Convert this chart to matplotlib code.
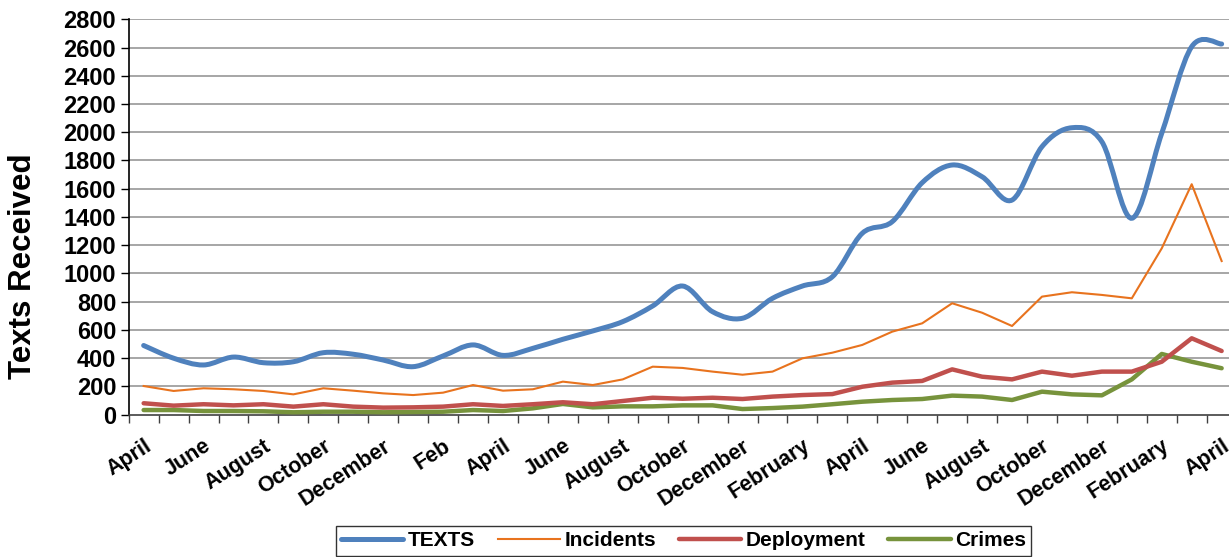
import numpy as np
import matplotlib
matplotlib.use("Agg")
import matplotlib.pyplot as plt
from matplotlib.path import Path
from matplotlib.patches import PathPatch
from matplotlib.lines import Line2D

# ---- Data (monthly, April to April over three years) ----
month_labels = ["April", "June", "August", "October", "December", "Feb",
                "April", "June", "August", "October", "December", "February",
                "April", "June", "August", "October", "December", "February",
                "April"]

texts = [490, 400, 352, 408, 368, 375, 439, 428, 387, 340, 416, 494, 420,
         470, 534, 593, 659, 770, 911, 729, 683, 824, 911, 977, 1285, 1367,
         1643, 1768, 1685, 1520, 1898, 2032, 1933, 1391, 1993, 2606, 2625]
incidents = [203, 168, 187, 180, 168, 144, 187, 170, 151, 139, 156, 210, 170,
             180, 234, 210, 250, 340, 331, 305, 283, 305, 399, 439, 494, 588,
             647, 789, 722, 628, 836, 867, 848, 824, 1178, 1632, 1088]
deployment = [81, 64, 74, 66, 74, 57, 74, 57, 50, 52, 57, 74, 62,
              74, 88, 74, 97, 120, 113, 120, 111, 128, 139, 146, 198, 227,
              239, 321, 269, 250, 305, 276, 305, 305, 375, 541, 451]
crimes = [33, 33, 26, 26, 24, 17, 21, 21, 17, 19, 21, 33, 26,
          45, 76, 52, 59, 59, 66, 66, 40, 47, 57, 74, 92, 104,
          111, 135, 128, 104, 163, 144, 137, 250, 430, 375, 329]

C_TEXTS = "#4F81BD"
C_INC = "#E8731E"
C_DEP = "#C0504D"
C_CRI = "#77933C"


def smooth_path(xs, ys):
    """Excel-style smoothed line: cubic Bezier through every point."""
    pts = np.column_stack([xs, ys]).astype(float)
    n = len(pts)
    verts = [pts[0]]
    codes = [Path.MOVETO]
    for i in range(n - 1):
        p0 = pts[i - 1] if i > 0 else pts[i]
        p1 = pts[i]
        p2 = pts[i + 1]
        p3 = pts[i + 2] if i + 2 < n else pts[i + 1]
        c1 = p1 + (p2 - p0) / 6.0
        c2 = p2 - (p3 - p1) / 6.0
        verts += [c1, c2, p2]
        codes += [Path.CURVE4] * 3
    return Path(verts, codes)


x = np.arange(len(texts))

plt.rcParams["font.family"] = ["Liberation Sans", "DejaVu Sans"]
plt.rcParams["font.weight"] = "bold"

fig = plt.figure(figsize=(12.29, 5.57), dpi=100)
ax = fig.add_axes([0.1047, 0.2555, 0.9015, 0.7099])

# gridlines
for v in range(200, 2801, 200):
    ax.axhline(v, color="#A6A6A6", lw=1.4, zorder=0)

ax.plot(x, crimes, color=C_CRI, lw=3.2, zorder=3, solid_capstyle="round")
ax.plot(x, deployment, color=C_DEP, lw=3.2, zorder=4, solid_capstyle="round")
ax.plot(x, incidents, color=C_INC, lw=1.5, zorder=5)
ax.add_patch(PathPatch(smooth_path(x, texts), facecolor="none",
                       edgecolor=C_TEXTS, lw=3.6, zorder=6, capstyle="round"))

ax.set_xlim(-0.5, len(texts) - 0.5)
ax.set_ylim(0, 2800)
ax.set_yticks(range(0, 2801, 200))
ax.tick_params(axis="y", labelsize=17, length=6, width=1, pad=3)

ax.set_xticks(x[::2])
ax.set_xticklabels(month_labels, rotation=33, ha="right", va="top",
                   rotation_mode="anchor", fontsize=15.5)
ax.set_xticks(np.arange(-0.5, len(texts), 1.0), minor=True)
ax.tick_params(axis="x", which="major", length=0, pad=15)
ax.tick_params(axis="x", which="minor", length=6, width=1, color="#404040")

for s in ["top", "right"]:
    ax.spines[s].set_visible(False)
ax.spines["left"].set_color("black")
ax.spines["left"].set_linewidth(1.2)
ax.spines["bottom"].set_color("#404040")
ax.spines["bottom"].set_linewidth(1.2)

fig.text(23 / 1229, 1 - 266 / 557, "Texts Received", rotation=90,
         ha="center", va="center", fontsize=22.5, fontweight="bold")

handles = [Line2D([], [], color=C_TEXTS, lw=3.6, solid_capstyle="round"),
           Line2D([], [], color=C_INC, lw=1.5),
           Line2D([], [], color=C_DEP, lw=3.2, solid_capstyle="round"),
           Line2D([], [], color=C_CRI, lw=3.2, solid_capstyle="round")]
leg = fig.legend(handles, ["TEXTS", "Incidents", "Deployment", "Crimes"],
                 loc="center", bbox_to_anchor=(0.556, 0.029), ncol=4,
                 frameon=True, fancybox=False, edgecolor="black",
                 handlelength=3.0, handletextpad=0.2, columnspacing=1.1,
                 borderpad=0.25,
                 prop={"weight": "bold", "size": 15})
leg.get_frame().set_linewidth(1.0)

plt.savefig("out.png", dpi=100)
